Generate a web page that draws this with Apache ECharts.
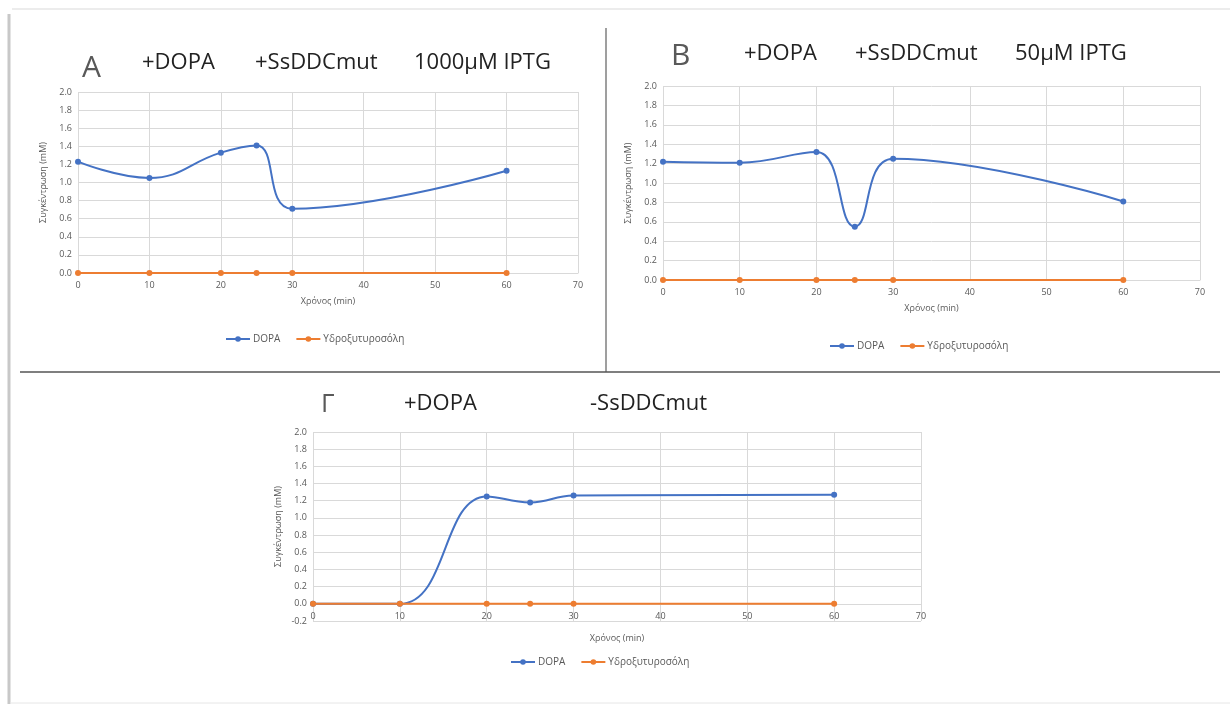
<!DOCTYPE html>
<html>
<head>
<meta charset="utf-8">
<title>DOPA</title>
<script src="https://cdn.jsdelivr.net/npm/echarts@6/dist/echarts.min.js"></script>
<style>
    html, body { margin: 0; padding: 0; background: #fff; }
    #main { width: 1230px; height: 704px; }
</style>
</head>
<body>
<div id="main"></div>
<script>
// χρόνοι δειγματοληψίας (min)
var times = [0, 10, 20, 25, 30, 60];
// DOPA (mM) ανά πείραμα
var dopaA = [1.23, 1.05, 1.33, 1.41, 0.71, 1.13];
var dopaB = [1.22, 1.21, 1.32, 0.55, 1.25, 0.81];
var dopaG = [0.00, 0.00, 1.25, 1.18, 1.26, 1.27];
// Υδροξυτυροσόλη (mM)
var htA = [0, 0, 0, 0, 0, 0];
var htB = [0, 0, 0, 0, 0, 0];
var htG = [0, 0, 0, 0, 0, 0];
var seriesNames = ['DOPA', 'Υδροξυτυροσόλη'];
var titlesA = ['A', '+DOPA', '+SsDDCmut', '1000μM IPTG'];
var titlesB = ['B', '+DOPA', '+SsDDCmut', '50μM IPTG'];
var titlesG = ['Γ', '+DOPA', '-SsDDCmut'];

var blue = '#4472C4', orange = '#ED7D31';
var grey = '#595959', gridGrey = '#d9d9d9';
var font = 'Open Sans';

var grids = [
    { left: 78, top: 92, width: 500, height: 181 },
    { left: 663, top: 86, width: 537, height: 194 },
    { left: 313, top: 432, width: 608, height: 189 }
];
var yMins = [0, 0, -0.2];
var yMax = 2.0;

function pairs(xs, ys) {
    return xs.map(function (x, i) { return [x, ys[i]]; });
}

var myChart = echarts.init(document.getElementById('main'));

function xAxisOf(idx) {
    // ο άξονας x περνάει από το 0 (στο Γ η κλίμακα ξεκινά από -0.2)
    var shift = -grids[idx].height * (0 - yMins[idx]) / (yMax - yMins[idx]);
    return {
        type: 'value', gridIndex: idx, min: 0, max: 70, interval: 10,
        offset: shift,
        name: 'Χρόνος (min)', nameLocation: 'middle', nameGap: idx == 2 ? 30 : 24,
        nameTextStyle: { color: grey, fontSize: 9, fontFamily: font },
        axisLine: { onZero: false, lineStyle: { color: gridGrey } },
        axisTick: { show: false },
        axisLabel: { color: grey, fontSize: 9, fontFamily: font, margin: 8 },
        splitLine: { lineStyle: { color: gridGrey } }
    };
}
function yAxisOf(idx) {
    return {
        type: 'value', gridIndex: idx, min: yMins[idx], max: yMax, interval: 0.2,
        name: 'Συγκέντρωση (mM)', nameLocation: 'middle', nameGap: 30,
        nameTextStyle: { color: grey, fontSize: 9, fontFamily: font },
        axisLine: { show: false },
        axisTick: { show: false },
        axisLabel: {
            color: grey, fontSize: 9, fontFamily: font, margin: 6,
            formatter: function (v) { return v.toFixed(1); }
        },
        splitLine: { lineStyle: { color: gridGrey } }
    };
}
function seriesOf(idx, dopa, ht) {
    return [{
        name: seriesNames[0], type: 'line', xAxisIndex: idx, yAxisIndex: idx,
        data: pairs(times, dopa), smooth: 0.45, symbol: 'circle', symbolSize: 6,
        itemStyle: { color: blue }, lineStyle: { color: blue, width: 2 }, z: 3
    }, {
        name: seriesNames[1], type: 'line', xAxisIndex: idx, yAxisIndex: idx,
        data: pairs(times, ht), symbol: 'circle', symbolSize: 6,
        itemStyle: { color: orange }, lineStyle: { color: orange, width: 2 }, z: 4
    }];
}
function legendOf(left, top) {
    return {
        data: seriesNames, left: left, top: top, padding: 0,
        itemWidth: 24, itemHeight: 7, itemGap: 15,
        textStyle: { color: grey, fontSize: 10, fontFamily: font, padding: [0, 0, 0, -2] }
    };
}
// επικεφαλίδες
function titleTexts(list, xs, y, big, bigY) {
    return list.map(function (t, i) {
        return {
            type: 'text', left: xs[i], top: i == 0 ? bigY : y,
            style: {
                text: t, fill: i == 0 ? grey : '#222',
                font: (i == 0 ? big : 22) + 'px "' + font + '"'
            }
        };
    });
}

var graphics = []
    .concat(titleTexts(titlesA, [82, 142, 255, 414], 52, 30, 53))
    .concat(titleTexts(titlesB, [671, 744, 855, 1015], 43, 30, 41))
    .concat(titleTexts(titlesG, [321, 404, 590], 393, 26, 392));
// περίγραμμα και διαχωριστικά
graphics.push(
    { type: 'line', shape: { x1: 9, y1: 14, x2: 9, y2: 704 }, style: { stroke: '#c8c8c8', lineWidth: 3 } },
    { type: 'line', shape: { x1: 12, y1: 9, x2: 1230, y2: 9 }, style: { stroke: '#ececec', lineWidth: 2 } },
    { type: 'line', shape: { x1: 606, y1: 28, x2: 606, y2: 372 }, style: { stroke: '#7f7f7f', lineWidth: 1.5 } },
    { type: 'line', shape: { x1: 20, y1: 372, x2: 1220, y2: 372 }, style: { stroke: '#555', lineWidth: 1.5 } },
    { type: 'line', shape: { x1: 10, y1: 703, x2: 1230, y2: 703 }, style: { stroke: '#e6e6e6', lineWidth: 1 } }
);

var option = {
    animation: false,
    grid: grids,
    xAxis: [xAxisOf(0), xAxisOf(1), xAxisOf(2)],
    yAxis: [yAxisOf(0), yAxisOf(1), yAxisOf(2)],
    legend: [legendOf(225, 334), legendOf(829, 341), legendOf(510, 657)],
    series: [].concat(seriesOf(0, dopaA, htA), seriesOf(1, dopaB, htB), seriesOf(2, dopaG, htG)),
    graphic: graphics
};

myChart.setOption(option);
</script>
</body>
</html>
